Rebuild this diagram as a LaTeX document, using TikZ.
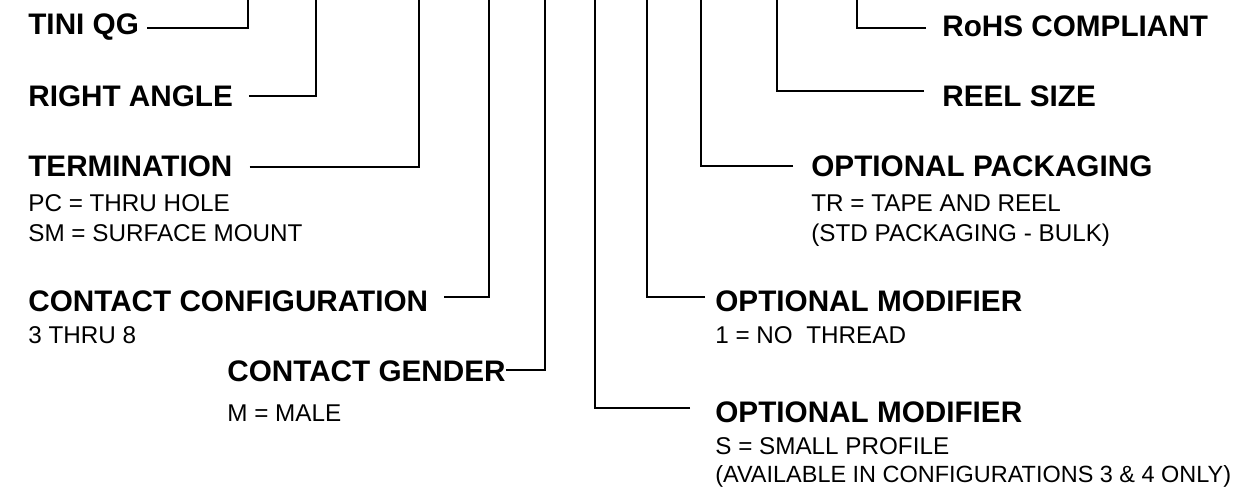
\documentclass[tikz,border=0pt]{standalone}
\usepackage{fontspec}
\setmainfont{Liberation Sans}

\begin{document}
\begin{tikzpicture}[
		lbl/.style={inner sep=0pt, anchor=base west, font=\bfseries\fontsize{16.9pt}{18pt}\selectfont},
		opt/.style={inner sep=0pt, anchor=base west, font=\fontsize{13.8pt}{16pt}\selectfont},
		lead/.style={line width=1.1pt}
	]
			\useasboundingbox (0, 0) rectangle (24.82, 9.84);
			\coordinate (top) at (0, 9.84);
			% bends of the leader lines
			\coordinate (k1) at (4.96, 9.28);
			\coordinate (k2) at (6.32, 7.92);
			\coordinate (k3) at (8.38, 6.50);
			\coordinate (k4) at (9.78, 3.90);
			\coordinate (k5) at (10.90, 2.44);
			\coordinate (k6) at (11.90, 1.68);
			\coordinate (k7) at (12.94, 3.90);
			\coordinate (k8) at (14.02, 6.52);
			\coordinate (k9) at (15.54, 8.02);
			\coordinate (k10) at (17.14, 9.28);
			% left column
			\node[lbl](tini) at (0.56, 9.14){TINI QG};
			\node[lbl](rang) at (0.56, 7.70){RIGHT ANGLE};
			\node[lbl](term) at (0.56, 6.30){TERMINATION};
			\node[opt](term1) at (0.56, 5.60){PC = THRU HOLE};
			\node[opt](term2) at (0.56, 5.00){SM = SURFACE MOUNT};
			\node[lbl](conf) at (0.56, 3.60){CONTACT CONFIGURATION};
			\node[opt](conf1) at (0.56, 2.96){3 THRU 8};
			\node[lbl](gend) at (4.54, 2.20){CONTACT GENDER};
			\node[opt](gend1) at (4.54, 1.42){M = MALE};
			% right column
			\node[lbl](rohs) at (18.84, 9.10){RoHS COMPLIANT};
			\node[lbl](reel) at (18.84, 7.70){REEL SIZE};
			\node[lbl](pack) at (16.22, 6.30){OPTIONAL PACKAGING};
			\node[opt](pack1) at (16.22, 5.60){TR = TAPE AND REEL};
			\node[opt](pack2) at (16.22, 5.00){(STD PACKAGING - BULK)};
			\node[lbl](modA) at (14.30, 3.60){OPTIONAL MODIFIER};
			\node[opt](modA1) at (14.30, 2.96){1 = NO\ \ THREAD};
			\node[lbl](modB) at (14.30, 1.40){OPTIONAL MODIFIER};
			\node[opt](modB1) at (14.30, 0.74){S = SMALL PROFILE};
			\node[opt, font=\fontsize{13.35pt}{16pt}\selectfont](modB2) at (14.30, 0.20){(AVAILABLE IN CONFIGURATIONS 3 \& 4 ONLY)};
			% leader lines
			\draw[lead] (tini.east |- k1) ++(0.16, 0) -- (k1) -- (k1 |- top);
			\draw[lead] (rang.east |- k2) ++(0.31, 0) -- (k2) -- (k2 |- top);
			\draw[lead] (term.east |- k3) ++(0.34, 0) -- (k3) -- (k3 |- top);
			\draw[lead] (conf.east |- k4) ++(0.32, 0) -- (k4) -- (k4 |- top);
			\draw[lead] (gend.east |- k5) -- (k5) -- (k5 |- top);
			\draw[lead] (modB.west |- k6) ++(-0.50, 0) -- (k6) -- (k6 |- top);
			\draw[lead] (modA.west |- k7) ++(-0.20, 0) -- (k7) -- (k7 |- top);
			\draw[lead] (pack.west |- k8) ++(-0.36, 0) -- (k8) -- (k8 |- top);
			\draw[lead] (reel.west |- k9) ++(-0.36, 0) -- (k9) -- (k9 |- top);
			\draw[lead] (rohs.west |- k10) ++(-0.32, 0) -- (k10) -- (k10 |- top);
		\end{tikzpicture}
\end{document}
